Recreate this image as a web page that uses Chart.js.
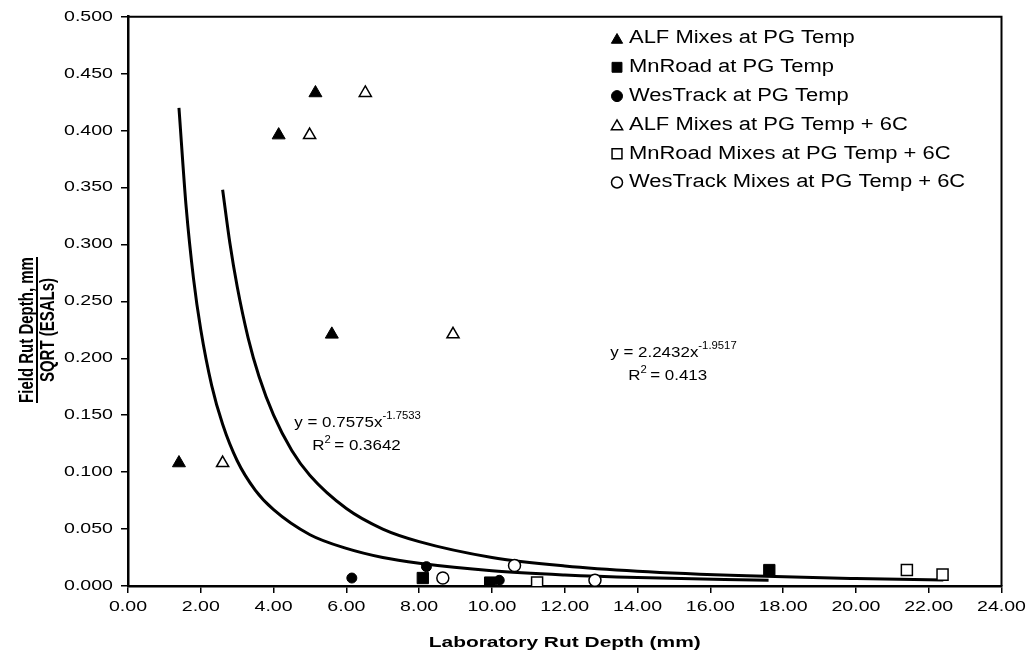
<!DOCTYPE html>
<html>
<head>
<meta charset="utf-8">
<script src="https://cdn.jsdelivr.net/npm/chart.js@4.4.1/dist/chart.umd.min.js"></script>
<style>
  html, body { margin: 0; padding: 0; background: #fff; }
  #wrap { width: 1031px; height: 657px; }
</style>
</head>
<body>
<div id="wrap"><canvas id="rutChart" width="1031" height="657"></canvas></div>
<script>
// lab rut depth (mm) against field rut depth / sqrt(ESALs)
const alfPG     = [[1.40, 0.108], [4.14, 0.396], [5.15, 0.433], [5.60, 0.221]];
const mnroadPG  = [[8.10, 0.007], [9.95, 0.003], [17.62, 0.014]];
const westrackPG = [[6.15, 0.007], [8.20, 0.017], [10.20, 0.005]];
const alf6C     = [[2.60, 0.108], [4.99, 0.396], [6.52, 0.433], [8.93, 0.221]];
const mnroad6C  = [[11.24, 0.003], [21.40, 0.014], [22.38, 0.010]];
const westrack6C = [[8.65, 0.007], [10.62, 0.018], [12.83, 0.005]];

// power trend lines
const trendPG = [[1.4, 0.420], [1.6, 0.332], [1.8, 0.270], [2.0, 0.225], [2.3, 0.176], [2.6, 0.142],
  [3.0, 0.110], [3.5, 0.084], [4.0, 0.067], [5.0, 0.045], [6.0, 0.033], [7.0, 0.025], [8.0, 0.020],
  [10.0, 0.0134], [12.0, 0.0097], [14.0, 0.0074], [17.6, 0.0050]];
const trend6C = [[2.6, 0.348], [2.8, 0.301], [3.0, 0.263], [3.3, 0.218], [3.6, 0.184], [4.0, 0.150],
  [4.5, 0.119], [5.0, 0.097], [6.0, 0.068], [7.0, 0.050], [8.0, 0.039], [10.0, 0.0251], [12.0, 0.0176],
  [14.0, 0.0130], [17.0, 0.0089], [20.0, 0.0065], [22.4, 0.0052]];

const seriesLabels = ['ALF Mixes at PG Temp', 'MnRoad at PG Temp', 'WesTrack at PG Temp',
  'ALF Mixes at PG Temp + 6C', 'MnRoad Mixes at PG Temp + 6C', 'WesTrack Mixes at PG Temp + 6C'];
const fitPG = { coef: '0.7575', power: '-1.7533', r2: '0.3642' };
const fit6C = { coef: '2.2432', power: '-1.9517', r2: '0.413' };

const xTicksMax = 24, xStep = 2;
const yTicksMax = 0.5, yStep = 0.05;

const toPts = (arr) => arr.map(([x, y]) => ({ x, y }));

// the original type is set wide, so stretch text along the page's x direction
const canvas = document.getElementById('rutChart');
const ctx = canvas.getContext('2d');
const plainFill = ctx.fillText.bind(ctx);
const plainMeasure = ctx.measureText.bind(ctx);
ctx.textStretch = 1.35;
ctx.fillText = function (text, x, y) {
  const k = ctx.textStretch;
  const t = ctx.getTransform();
  const p = t.transformPoint(new DOMPoint(x, y));
  const m = new DOMMatrix().translate(p.x, p.y).scale(k, 1).translate(-p.x, -p.y).multiply(t);
  ctx.setTransform(m);
  plainFill(text, x, y);
  ctx.setTransform(t);
};
ctx.measureText = function (text) {
  const m = plainMeasure(text);
  return {
    width: m.width * ctx.textStretch,
    actualBoundingBoxAscent: m.actualBoundingBoxAscent,
    actualBoundingBoxDescent: m.actualBoundingBoxDescent,
    actualBoundingBoxLeft: m.actualBoundingBoxLeft * ctx.textStretch,
    actualBoundingBoxRight: m.actualBoundingBoxRight * ctx.textStretch
  };
};

Chart.defaults.font.family = '"Liberation Sans", Arial, sans-serif';
Chart.defaults.color = '#000';

const filled = { backgroundColor: '#000', borderColor: '#000', borderWidth: 1 };
const hollow = { backgroundColor: '#fff', borderColor: '#000', borderWidth: 1.5 };

const frame = {
  id: 'frame',
  afterDatasetsDraw(chart) {
    const { ctx, chartArea: a } = chart;
    ctx.save();
    ctx.strokeStyle = '#000';
    ctx.lineWidth = 2;
    ctx.beginPath();
    ctx.moveTo(a.left, a.top);
    ctx.lineTo(a.right, a.top);
    ctx.lineTo(a.right, a.bottom);
    ctx.stroke();
    ctx.restore();
  }
};

const legendBox = {
  id: 'legendBox',
  afterDraw(chart) {
    const { ctx } = chart;
    ctx.save();
    ctx.textStretch = 1.22;
    ctx.font = '18px "Liberation Sans", Arial, sans-serif';
    ctx.textAlign = 'left';
    ctx.textBaseline = 'middle';
    const sizes = { triangle: 6.5, rect: 7, circle: 5.5 };
    seriesLabels.forEach((label, i) => {
      const ds = chart.data.datasets[i];
      const y = 38.5 + i * 28.8;
      ctx.fillStyle = ds.backgroundColor;
      ctx.strokeStyle = '#000';
      ctx.lineWidth = ds.borderWidth;
      Chart.helpers.drawPoint(ctx, { pointStyle: ds.pointStyle, radius: sizes[ds.pointStyle], borderWidth: ds.borderWidth, rotation: 0 }, 617, y + (ds.pointStyle === 'triangle' ? 1.5 : 0));
      ctx.fillStyle = '#000';
      ctx.fillText(label, 629, y);
    });
    ctx.restore();
    ctx.textStretch = 1.35;
  }
};

function drawEquation(ctx, fit, x, y) {
  ctx.textAlign = 'left';
  ctx.textBaseline = 'alphabetic';
  ctx.textStretch = 1.13;
  ctx.font = '15px "Liberation Sans", Arial, sans-serif';
  const base = 'y = ' + fit.coef + 'x';
  ctx.fillText(base, x, y);
  const w = ctx.measureText(base).width;
  ctx.font = '10px "Liberation Sans", Arial, sans-serif';
  ctx.fillText(fit.power, x + w, y - 8);
  // R squared line
  const rx = x + 18, ry = y + 23;
  ctx.font = '15px "Liberation Sans", Arial, sans-serif';
  ctx.fillText('R', rx, ry);
  const rw = ctx.measureText('R').width;
  ctx.font = '10px "Liberation Sans", Arial, sans-serif';
  ctx.fillText('2', rx + rw, ry - 7);
  ctx.font = '15px "Liberation Sans", Arial, sans-serif';
  ctx.fillText(' = ' + fit.r2, rx + rw + 5, ry);
}

const labelsPlugin = {
  id: 'labelsPlugin',
  afterDraw(chart) {
    const { ctx, scales } = chart;
    const xs = scales.x, ys = scales.y;
    ctx.save();
    ctx.fillStyle = '#000';
    drawEquation(ctx, fitPG, xs.getPixelForValue(4.57), ys.getPixelForValue(0.1395));
    drawEquation(ctx, fit6C, xs.getPixelForValue(13.25), ys.getPixelForValue(0.201));

    // x axis title
    ctx.textStretch = 1.35;
    ctx.font = 'bold 15.5px "Liberation Sans", Arial, sans-serif';
    ctx.textAlign = 'center';
    ctx.textBaseline = 'alphabetic';
    ctx.fillText('Laboratory Rut Depth (mm)', (chart.chartArea.left + chart.chartArea.right) / 2, 647);

    // y axis title as a fraction; width stretch shows up as thicker columns here
    ctx.textStretch = 1.3;
    ctx.font = 'bold 15px "Liberation Sans", Arial, sans-serif';
    const cy = 330;
    const top = 'Field Rut Depth, mm';
    const tw = plainMeasure(top).width;
    ctx.save();
    ctx.translate(33, cy);
    ctx.rotate(-Math.PI / 2);
    ctx.fillText(top, 0, 0);
    ctx.strokeStyle = '#000';
    ctx.lineWidth = 2;
    ctx.beginPath();
    ctx.moveTo(-tw / 2, 4);
    ctx.lineTo(tw / 2, 4);
    ctx.stroke();
    ctx.restore();
    ctx.save();
    ctx.translate(54, cy);
    ctx.rotate(-Math.PI / 2);
    ctx.fillText('SQRT (ESALs)', 0, 0);
    ctx.restore();
    ctx.restore();
    ctx.textStretch = 1.35;
  }
};

new Chart(ctx, {
  type: 'scatter',
  data: {
    datasets: [
      { label: seriesLabels[0], data: toPts(alfPG), pointStyle: 'triangle', pointRadius: 7.5, ...filled },
      { label: seriesLabels[1], data: toPts(mnroadPG), pointStyle: 'rect', pointRadius: 8, ...filled },
      { label: seriesLabels[2], data: toPts(westrackPG), pointStyle: 'circle', pointRadius: 5, ...filled },
      { label: seriesLabels[3], data: toPts(alf6C), pointStyle: 'triangle', pointRadius: 7, ...hollow },
      { label: seriesLabels[4], data: toPts(mnroad6C), pointStyle: 'rect', pointRadius: 7.8, ...hollow },
      { label: seriesLabels[5], data: toPts(westrack6C), pointStyle: 'circle', pointRadius: 6, ...hollow },
      { label: 'Power (PG Temp)', data: toPts(trendPG), showLine: true, pointRadius: 0,
        borderColor: '#000', borderWidth: 3, cubicInterpolationMode: 'monotone' },
      { label: 'Power (PG Temp + 6C)', data: toPts(trend6C), showLine: true, pointRadius: 0,
        borderColor: '#000', borderWidth: 3, cubicInterpolationMode: 'monotone' }
    ]
  },
  options: {
    responsive: false,
    animation: false,
    layout: { padding: { left: 0, top: 16, right: 26, bottom: 0 } },
    plugins: { legend: { display: false }, tooltip: { enabled: false } },
    elements: { point: { hoverRadius: 0 } },
    scales: {
      x: {
        type: 'linear', min: 0, max: xTicksMax,
        ticks: { stepSize: xStep, autoSkip: false, maxRotation: 0, padding: 5,
          font: { size: 14.5 }, callback: (v) => v.toFixed(2) },
        grid: { drawOnChartArea: false, drawTicks: true, tickLength: 7, color: '#000', lineWidth: 1.5 },
        border: { display: true, color: '#000', width: 2.5 },
        afterFit: (s) => { s.height = 71; }
      },
      y: {
        type: 'linear', min: 0, max: yTicksMax,
        ticks: { stepSize: yStep, autoSkip: false, padding: 8,
          font: { size: 14.5 }, callback: (v) => v.toFixed(3) },
        grid: { drawOnChartArea: false, drawTicks: true, tickLength: 7, color: '#000', lineWidth: 1.5 },
        border: { display: true, color: '#000', width: 2.5 },
        afterFit: (s) => { s.width = 128; }
      }
    }
  },
  plugins: [frame, legendBox, labelsPlugin]
});
</script>
</body>
</html>
